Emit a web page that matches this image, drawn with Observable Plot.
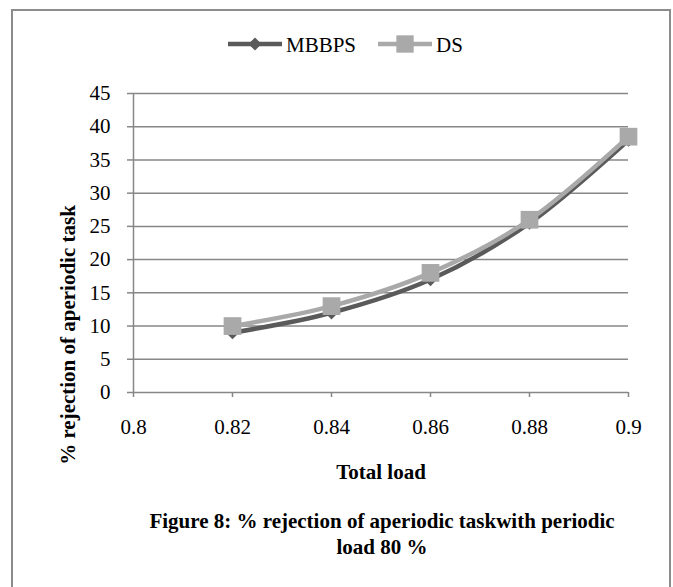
<!DOCTYPE html>
<html>
<head>
<meta charset="utf-8">
<script src="https://cdn.jsdelivr.net/npm/d3@7"></script>
<script src="https://cdn.jsdelivr.net/npm/@observablehq/plot@0.6"></script>
<style>
  html, body { margin: 0; padding: 0; background: #fff; }
  #wrap { position: relative; width: 673px; height: 587px; overflow: hidden; font-family: "Liberation Serif", "Times New Roman", serif; color: #000; }
  #frame { position: absolute; left: 11px; top: 9px; width: 660px; height: 600px; border: 2.5px solid #8c8c8c; box-sizing: border-box; }
  #chart { position: absolute; left: 0; top: 0; }
  .lbl { position: absolute; white-space: nowrap; font-weight: bold; transform: translate(-50%, -50%); line-height: 1; }
  #legend { position: absolute; left: 0; top: 0; }
  #legend span { position: absolute; font-size: 21px; white-space: nowrap; transform: translateY(-50%); line-height: 1; }
</style>
</head>
<body>
<div id="wrap">
  <div id="frame"></div>
  <div id="chart"></div>
  <svg id="legendsvg" width="673" height="80" style="position:absolute;left:0;top:0"></svg>
  <div id="legend"></div>
  <div class="lbl" style="left:68px; top:335px; font-size:21px; transform: translate(-50%, -50%) rotate(-90deg);">% rejection of aperiodic task</div>
  <div class="lbl" style="left:381px; top:472px; font-size:21px;">Total load</div>
  <div class="lbl" style="left:382px; top:521px; font-size:21px;">Figure 8: % rejection of aperiodic taskwith periodic</div>
  <div class="lbl" style="left:382px; top:547px; font-size:21px;">load 80 %</div>
</div>
<script>
// ---- data ----
const xValues = [0.82, 0.84, 0.86, 0.88, 0.9];
const mbbpsValues = [9, 12, 17, 25.5, 38];
const dsValues = [10, 13, 18, 26, 38.5];
const seriesNames = ["MBBPS", "DS"];
const xTicks = [0.8, 0.82, 0.84, 0.86, 0.88, 0.9];
const xTickLabels = ["0.8", "0.82", "0.84", "0.86", "0.88", "0.9"];
const yTicks = [0, 5, 10, 15, 20, 25, 30, 35, 40, 45];

const colors = {MBBPS: "#5a5a5a", DS: "#a9a9a9"};

const mbbps = xValues.map((x, i) => ({x, y: mbbpsValues[i], s: "MBBPS"}));
const ds = xValues.map((x, i) => ({x, y: dsValues[i], s: "DS"}));

const gridColor = "#878787";

const chart = Plot.plot({
  width: 673,
  height: 587,
  marginLeft: 133,
  marginRight: 45,
  marginTop: 93,
  marginBottom: 195,
  style: {fontFamily: "'Liberation Serif', 'Times New Roman', serif", fontSize: "21px", background: "transparent", color: "#000"},
  x: {domain: [0.8, 0.9]},
  y: {domain: [0, 45]},
  marks: [
    Plot.ruleY(yTicks, {stroke: gridColor, strokeWidth: 1.5}),
    Plot.ruleX([0.8], {stroke: gridColor, strokeWidth: 1.5}),
    Plot.axisY(yTicks, {tickSize: 6, tickPadding: 17, stroke: gridColor, strokeWidth: 1.5, fontSize: 21, label: null}),
    Plot.axisX(xTicks, {tickSize: 5, tickPadding: 22, stroke: gridColor, strokeWidth: 1.5, fontSize: 21, label: null,
      tickFormat: d => xTickLabels[xTicks.indexOf(d)]}),
    Plot.line(mbbps, {x: "x", y: "y", stroke: colors.MBBPS, strokeWidth: 4.5, curve: "catmull-rom"}),
    Plot.dot(mbbps, {x: "x", y: "y", symbol: "diamond2", r: 6, fill: colors.MBBPS, stroke: "none"}),
    Plot.line(ds, {x: "x", y: "y", stroke: colors.DS, strokeWidth: 4.5, curve: "catmull-rom"}),
    Plot.dot(ds, {x: "x", y: "y", symbol: "square", r: 10, fill: colors.DS, stroke: "none"})
  ]
});
document.getElementById("chart").appendChild(chart);

// ---- legend ----
const lsvg = d3.select("#legendsvg");
const legendItems = [
  {name: seriesNames[0], x0: 228, x1: 282, textX: 286, sym: d3.symbolDiamond2, size: 110},
  {name: seriesNames[1], x0: 378, x1: 432, textX: 436, sym: d3.symbolSquare, size: 300}
];
const ly = 44;
const legendDiv = document.getElementById("legend");
legendItems.forEach(it => {
  lsvg.append("line").attr("x1", it.x0).attr("x2", it.x1).attr("y1", ly).attr("y2", ly)
    .attr("stroke", colors[it.name]).attr("stroke-width", 4.5);
  lsvg.append("path").attr("d", d3.symbol(it.sym, it.size)())
    .attr("transform", `translate(${(it.x0 + it.x1) / 2},${ly})`).attr("fill", colors[it.name]);
  const sp = document.createElement("span");
  sp.textContent = it.name;
  sp.style.left = it.textX + "px";
  sp.style.top = (ly + 1) + "px";
  legendDiv.appendChild(sp);
});
</script>
</body>
</html>
